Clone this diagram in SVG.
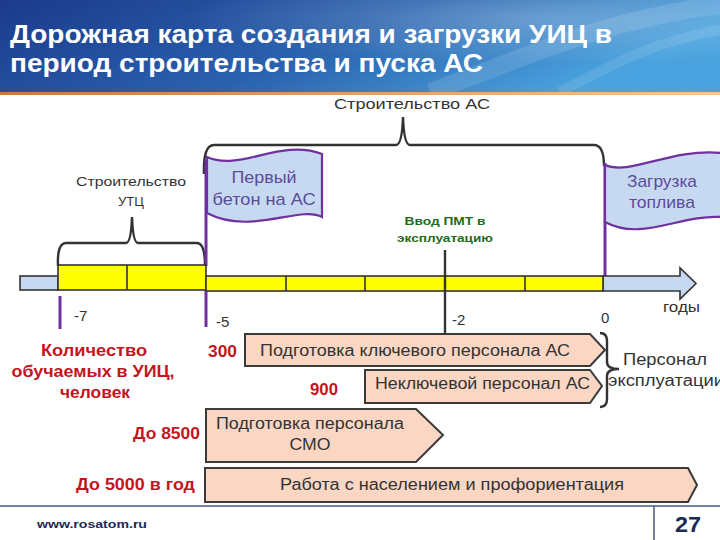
<svg xmlns="http://www.w3.org/2000/svg" width="720" height="540" viewBox="0 0 720 540">
<defs>
<linearGradient id="hdr" x1="0" y1="0" x2="1" y2="0.3">
<stop offset="0" stop-color="#1c3a8c"/>
<stop offset="0.55" stop-color="#2a62ae"/>
<stop offset="1" stop-color="#4aa3de"/>
</linearGradient>
<linearGradient id="orng" x1="0" y1="0" x2="1" y2="0">
<stop offset="0" stop-color="#c77a45"/>
<stop offset="1" stop-color="#f3c88e"/>
</linearGradient>
<radialGradient id="glow" cx="0.75" cy="0.2" r="0.5">
<stop offset="0" stop-color="#ffffff" stop-opacity="0.25"/>
<stop offset="1" stop-color="#ffffff" stop-opacity="0"/>
</radialGradient>
<style>
.t{font-family:"Liberation Sans",Arial,sans-serif;fill:#333333}
.title{font-family:"Liberation Sans",Arial,sans-serif;font-weight:bold;font-size:25px;fill:#ffffff}
.red{font-family:"Liberation Sans",Arial,sans-serif;font-weight:bold;font-size:16px;fill:#c4151c}
.flagtxt{font-family:"Liberation Sans",Arial,sans-serif;font-size:17px;fill:#5b4b9b}
.green{font-family:"Liberation Sans",Arial,sans-serif;font-weight:bold;font-size:11px;fill:#1f6b22}
.flag{fill:#c6d9f0;stroke:#7030a0;stroke-width:2.2}
.box{fill:#fad6c3;stroke:#3a3a3a;stroke-width:2}
.yel{fill:#ffff00;stroke:#333333;stroke-width:1.6}
.blue{fill:#c6d9f0;stroke:#333333;stroke-width:1.6}
.brace{fill:none;stroke:#333333;stroke-width:2.4}
.tick{stroke:#7030a0;stroke-width:3}
.foot{font-family:"Liberation Sans",Arial,sans-serif;font-weight:bold;fill:#1a2a5a}
</style>
</defs>

<g id="header">
<rect x="0" y="0" width="720" height="92" fill="url(#hdr)"/>
<rect x="0" y="0" width="720" height="92" fill="url(#glow)"/>
<path d="M430,92 C520,60 600,20 720,5" fill="none" stroke="#ffffff" stroke-opacity="0.12" stroke-width="18"/>
<path d="M560,92 C620,60 660,40 720,30" fill="none" stroke="#ffffff" stroke-opacity="0.1" stroke-width="10"/>
<rect x="0" y="92" width="720" height="3" fill="url(#orng)"/>
<text class="title" x="10" y="43" textLength="602" lengthAdjust="spacingAndGlyphs">Дорожная карта создания и загрузки УИЦ в</text>
<text class="title" x="10" y="72" textLength="473" lengthAdjust="spacingAndGlyphs">период строительства и пуска АС</text>
</g>

<g id="label-stroitelstvo-as">
<text class="t" x="412" y="109" font-size="14" text-anchor="middle" textLength="156" lengthAdjust="spacingAndGlyphs">Строительство АС</text>
</g>

<g id="label-utc">
<text class="t" x="131" y="186" font-size="13" text-anchor="middle" textLength="110" lengthAdjust="spacingAndGlyphs">Строительство</text>
<text class="t" x="131" y="206" font-size="13" text-anchor="middle">УТЦ</text>
</g>

<g id="connectors">
<path class="brace" d="M204,174 Q203,145 214,145 L396,145 Q402,145 403,117 Q404,145 410,145 L594,145 Q604,145 604,166"/>
<path class="brace" d="M58,266 Q57,243 66,243 L126,243 Q131,243 132,217 Q133,243 138,243 L197,243 Q205,243 205,266"/>
<line class="tick" x1="206" y1="160" x2="206" y2="266"/>
<line class="tick" x1="605" y1="163" x2="605" y2="276"/>
<line class="tick" x1="60" y1="296" x2="60" y2="329"/>
<line class="tick" x1="206" y1="291" x2="206" y2="327"/>
<path class="brace" d="M600,333 Q607,333 607,341 L607,362 Q607,369 619,369 Q607,369 607,376 L607,399 Q607,407 600,407"/>
</g>

<g id="flag-beton">
<path class="flag" d="M207,157 C240,172 280,138 322,154 L322,217 C300,205 250,236 207,213 Z"/>
<text class="flagtxt" x="264" y="183" text-anchor="middle" textLength="65" lengthAdjust="spacingAndGlyphs">Первый</text>
<text class="flagtxt" x="264" y="205" text-anchor="middle" textLength="103" lengthAdjust="spacingAndGlyphs">бетон на АС</text>
</g>

<g id="flag-zagruzka">
<path class="flag" d="M605,165 C630,176 670,148 722,153 L722,217 C680,214 642,242 605,222 Z"/>
<text class="flagtxt" x="662" y="187" text-anchor="middle" textLength="70" lengthAdjust="spacingAndGlyphs">Загрузка</text>
<text class="flagtxt" x="662" y="208" text-anchor="middle" textLength="66" lengthAdjust="spacingAndGlyphs">топлива</text>
</g>

<g id="label-pmt">
<text class="green" x="445" y="225" text-anchor="middle" textLength="81" lengthAdjust="spacingAndGlyphs">Ввод ПМТ в</text>
<text class="green" x="445" y="242" text-anchor="middle" textLength="96" lengthAdjust="spacingAndGlyphs">эксплуатацию</text>
</g>

<g id="timeline">
<rect class="blue" x="20" y="276" width="38" height="14"/>
<rect class="yel" x="58" y="265" width="148" height="25"/>
<line x1="127" y1="265" x2="127" y2="290" stroke="#333333" stroke-width="1.6"/>
<polygon class="blue" points="603,276 680,276 680,268 696,283.5 680,299 680,291 603,291"/>
<rect class="yel" x="206" y="276" width="397" height="15"/>
<line x1="286" y1="276" x2="286" y2="291" stroke="#333333" stroke-width="1.6"/>
<line x1="365" y1="276" x2="365" y2="291" stroke="#333333" stroke-width="1.6"/>
<line x1="525" y1="276" x2="525" y2="291" stroke="#333333" stroke-width="1.6"/>
<line x1="445" y1="250" x2="445" y2="333" stroke="#333333" stroke-width="2.4"/>
<text class="t" x="74" y="321" font-size="15">-7</text>
<text class="t" x="216" y="327" font-size="15">-5</text>
<text class="t" x="452" y="325" font-size="15">-2</text>
<text class="t" x="601" y="323" font-size="15">0</text>
<text class="t" x="663" y="312" font-size="15" textLength="37" lengthAdjust="spacingAndGlyphs">годы</text>
</g>

<g id="label-kolichestvo">
<text class="red" x="94" y="356" text-anchor="middle" textLength="106" lengthAdjust="spacingAndGlyphs">Количество</text>
<text class="red" x="93" y="377" text-anchor="middle" textLength="163" lengthAdjust="spacingAndGlyphs">обучаемых в УИЦ,</text>
<text class="red" x="95" y="398" text-anchor="middle" textLength="70" lengthAdjust="spacingAndGlyphs">человек</text>
</g>

<g id="box-key">
<text class="red" x="208" y="357" textLength="29" lengthAdjust="spacingAndGlyphs">300</text>
<polygon class="box" points="245,334 590,334 605,350 590,366 245,366"/>
<text class="t" x="260" y="356" font-size="16" textLength="310" lengthAdjust="spacingAndGlyphs">Подготовка ключевого персонала АС</text>
</g>

<g id="box-nonkey">
<text class="red" x="310" y="395" textLength="28" lengthAdjust="spacingAndGlyphs">900</text>
<polygon class="box" points="365,370 590,370 602,386 590,403 365,403"/>
<text class="t" x="375" y="389" font-size="16" textLength="215" lengthAdjust="spacingAndGlyphs">Неключевой персонал АС</text>
</g>

<g id="label-personal">
<text class="t" x="623" y="365" font-size="16" textLength="84" lengthAdjust="spacingAndGlyphs">Персонал</text>
<text class="t" x="608" y="386" font-size="16" textLength="116" lengthAdjust="spacingAndGlyphs">эксплуатации</text>
</g>

<g id="box-smo">
<text class="red" x="200" y="439" text-anchor="end" textLength="67" lengthAdjust="spacingAndGlyphs">До 8500</text>
<polygon class="box" points="206,409 416,409 443,435 416,462 206,462"/>
<text class="t" x="216" y="429" font-size="16" textLength="188" lengthAdjust="spacingAndGlyphs">Подготовка персонала</text>
<text class="t" x="310" y="450" font-size="16" text-anchor="middle" textLength="41" lengthAdjust="spacingAndGlyphs">СМО</text>
</g>

<g id="box-naselenie">
<text class="red" x="195" y="490" text-anchor="end" textLength="119" lengthAdjust="spacingAndGlyphs">До 5000 в год</text>
<polygon class="box" points="205,468 688,468 697,485 688,502 205,502"/>
<text class="t" x="280" y="490" font-size="16" textLength="344" lengthAdjust="spacingAndGlyphs">Работа с населением и профориентация</text>
</g>

<g id="footer">
<line x1="0" y1="506" x2="720" y2="506" stroke="#4a5a7a" stroke-width="1.5"/>
<line x1="654" y1="506" x2="654" y2="540" stroke="#4a5a7a" stroke-width="1.5"/>
<text class="foot" x="37" y="528" font-size="11" textLength="110" lengthAdjust="spacingAndGlyphs">www.rosatom.ru</text>
<text class="foot" x="675" y="532" font-size="22" textLength="26" lengthAdjust="spacingAndGlyphs">27</text>
</g>
</svg>
